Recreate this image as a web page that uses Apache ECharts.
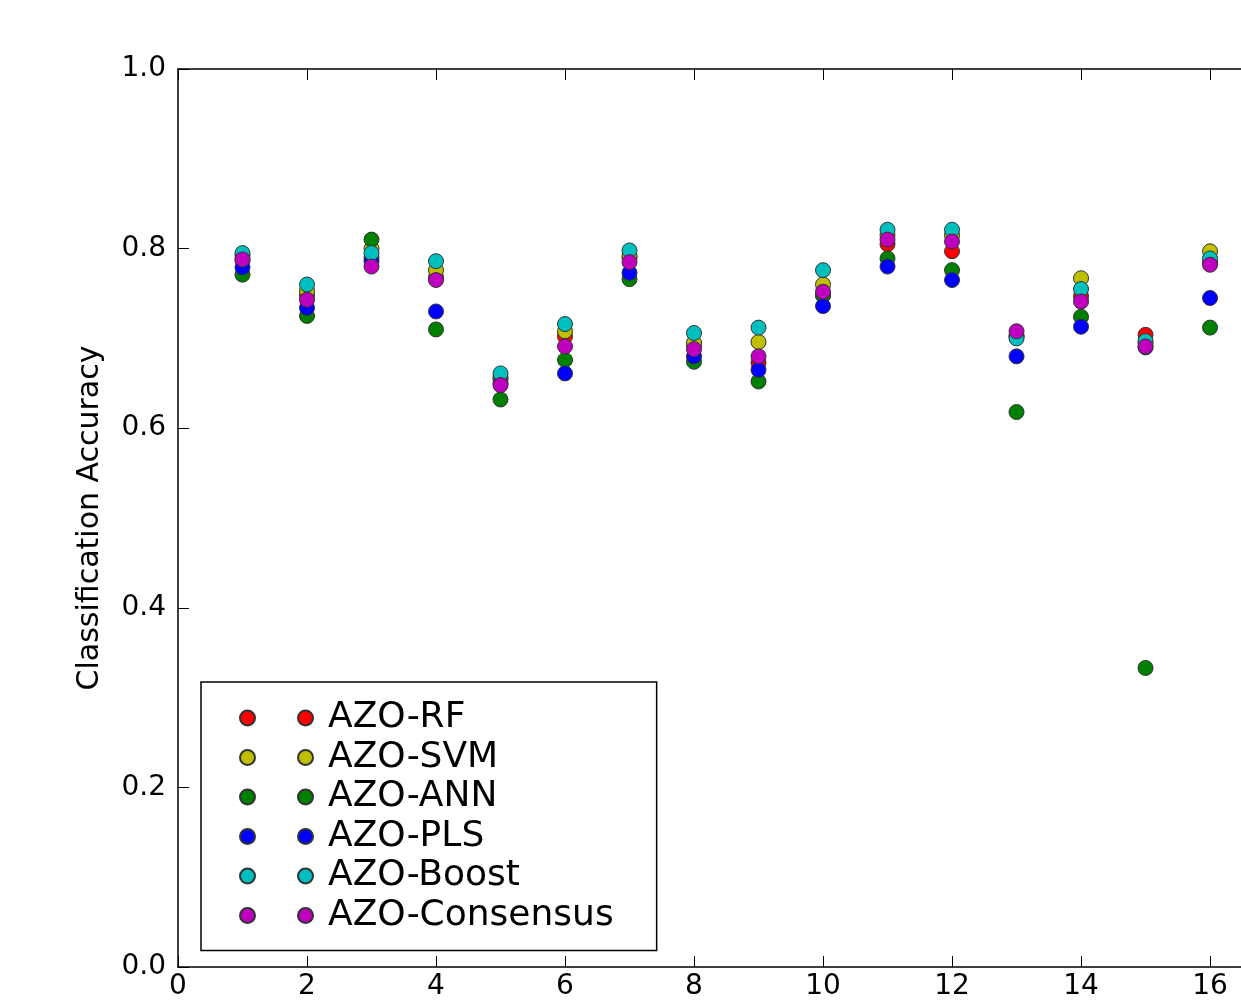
<!DOCTYPE html>
<html>
<head>
<meta charset="utf-8">
<script src="https://cdn.jsdelivr.net/npm/echarts@6/dist/echarts.min.js"></script>
<style>
  html, body { margin: 0; padding: 0; background: #fff; overflow: hidden; }
  #chart { width: 1241px; height: 1001px; }
</style>
</head>
<body>
<div id="chart"></div>
<script>
const datasets = [1, 2, 3, 4, 5, 6, 7, 8, 9, 10, 11, 12, 13, 14, 15, 16];

const azoRF = [0.787, 0.748, 0.790, 0.768, 0.655, 0.702, 0.790, 0.693, 0.673, 0.748, 0.805, 0.797, 0.702, 0.747, 0.704, 0.785];
const azoSVM = [0.792, 0.753, 0.800, 0.776, 0.657, 0.708, 0.792, 0.695, 0.696, 0.760, 0.815, 0.815, 0.703, 0.767, 0.695, 0.797];
const azoANN = [0.771, 0.725, 0.810, 0.710, 0.632, 0.676, 0.766, 0.674, 0.652, 0.748, 0.789, 0.776, 0.618, 0.724, 0.333, 0.712];
const azoPLS = [0.779, 0.734, 0.786, 0.730, 0.650, 0.661, 0.773, 0.680, 0.665, 0.736, 0.780, 0.765, 0.680, 0.713, 0.690, 0.745];
const azoBoost = [0.795, 0.760, 0.795, 0.786, 0.661, 0.716, 0.798, 0.706, 0.712, 0.776, 0.821, 0.821, 0.700, 0.755, 0.697, 0.789];
const azoConsensus = [0.788, 0.743, 0.780, 0.765, 0.648, 0.691, 0.785, 0.688, 0.680, 0.752, 0.810, 0.808, 0.708, 0.741, 0.691, 0.782];

const seriesNames = ['AZO-RF', 'AZO-SVM', 'AZO-ANN', 'AZO-PLS', 'AZO-Boost', 'AZO-Consensus'];
const seriesValues = [azoRF, azoSVM, azoANN, azoPLS, azoBoost, azoConsensus];
const seriesColors = ['#ff0000', '#bfbf00', '#008000', '#0000ff', '#00bfbf', '#bf00bf'];

const yTicks = [0, 0.2, 0.4, 0.6, 0.8, 1.0];

// the original figure is cut off on the right, just past x = 16
const xMax = 16.48;

// legend icon: two markers side by side like matplotlib numpoints=2
const twoDots = 'path://M0,7.5a7.5,7.5 0 1,0 15,0a7.5,7.5 0 1,0 -15,0Z M58,7.5a7.5,7.5 0 1,0 15,0a7.5,7.5 0 1,0 -15,0Z';

const chart = echarts.init(document.getElementById('chart'));

const font = 'DejaVu Sans';

const xAxisBase = {
    type: 'value',
    min: 0,
    max: xMax,
    interval: 2,
    splitLine: { show: false },
    axisLine: { lineStyle: { color: '#000', width: 1.5 } },
    axisTick: { inside: true, length: 11, lineStyle: { color: '#000' } },
};

chart.setOption({
    backgroundColor: '#fff',
    animation: false,
    grid: {
        left: 178,
        top: 69,
        right: 0,
        height: 899,
    },
    legend: {
        orient: 'vertical',
        left: 201,
        top: 682,
        padding: [18, 43, 17, 38],
        itemGap: 3.5,
        itemWidth: 73,
        itemHeight: 15,
        icon: twoDots,
        borderColor: '#000',
        borderWidth: 1.5,
        backgroundColor: '#fff',
        data: seriesNames,
        textStyle: {
            fontFamily: font,
            fontSize: 36,
            color: '#000',
            padding: [0, 0, 0, 10],
        },
    },
    xAxis: [
        Object.assign({}, xAxisBase, {
            axisLabel: {
                showMaxLabel: false,
                margin: 6,
                fontFamily: font,
                fontSize: 28,
                color: '#000',
            },
        }),
        Object.assign({}, xAxisBase, {
            position: 'top',
            axisLabel: { show: false },
        }),
    ],
    yAxis: {
        type: 'value',
        min: yTicks[0],
        max: yTicks[yTicks.length - 1],
        interval: 0.2,
        name: 'Classification Accuracy',
        nameLocation: 'middle',
        nameGap: 73,
        nameTextStyle: { fontFamily: font, fontSize: 30, color: '#000' },
        splitLine: { show: false },
        axisLine: { show: true, lineStyle: { color: '#000', width: 1.5 } },
        axisTick: { show: true, inside: true, length: 11, lineStyle: { color: '#000' } },
        axisLabel: {
            margin: 12,
            fontFamily: font,
            fontSize: 28,
            color: '#000',
            formatter: (v) => v.toFixed(1),
        },
    },
    series: seriesNames.map((name, i) => ({
        name: name,
        type: 'scatter',
        symbol: 'circle',
        symbolSize: 15,
        itemStyle: {
            color: seriesColors[i],
            borderColor: '#333',
            borderWidth: 1,
            opacity: 1,
        },
        data: datasets.map((x, j) => [x, seriesValues[i][j]]),
    })),
});
</script>
</body>
</html>
